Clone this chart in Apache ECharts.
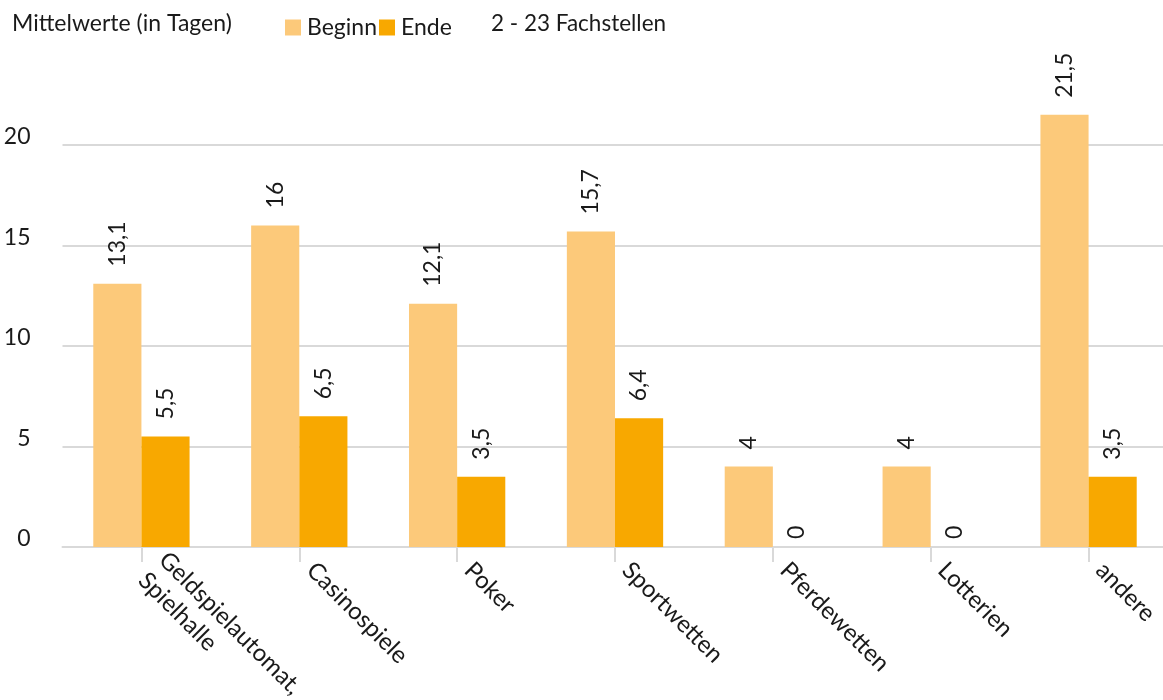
<!DOCTYPE html>
<html>
<head>
<meta charset="utf-8">
<script src="https://cdn.jsdelivr.net/npm/echarts@6/dist/echarts.min.js"></script>
<style>
html,body{margin:0;padding:0;background:#fff;}
#chart{width:1163px;height:700px;}
</style>
</head>
<body>
<div id="chart"></div>
<script>
const categories = ["Geldspielautomat,\nSpielhalle", "Casinospiele", "Poker", "Sportwetten", "Pferdewetten", "Lotterien", "andere"];
const beginn = [13.1, 16, 12.1, 15.7, 4, 4, 21.5];
const ende = [5.5, 6.5, 3.5, 6.4, 0, 0, 3.5];
const seriesNames = ["Beginn", "Ende"];
const yTicks = [0, 5, 10, 15, 20, 25];

const FONT = 'Lato, "Open Sans", sans-serif';
const TXT = '#1a1a1a';

function fmt(v){ return String(v).replace('.', ','); }
function items(arr){
  return arr.map(v => ({ value: v, label: { distance: v === 0 ? 8 : 17 } }));
}
const labelStyle = {
  show: true, position: 'top', rotate: 90, align: 'left', verticalAlign: 'middle',
  fontFamily: FONT, fontSize: 23, color: TXT,
  formatter: p => fmt(p.value)
};

const chart = echarts.init(document.getElementById('chart'), null, {renderer: 'canvas'});
chart.setOption({
  animation: false,
  backgroundColor: '#fff',
  textStyle: { fontFamily: FONT },
  title: [
    { text: 'Mittelwerte (in Tagen)', left: 7, top: 7, textStyle: { fontFamily: FONT, fontSize: 23, fontWeight: 'normal', color: TXT } },
    { text: '2 - 23 Fachstellen', left: 486, top: 7, textStyle: { fontFamily: FONT, fontSize: 22.5, fontWeight: 'normal', color: TXT } }
  ],
  legend: {
    data: seriesNames, left: 280, top: 11, icon: 'rect', itemWidth: 16, itemHeight: 16, itemGap: 2,
    textStyle: { fontFamily: FONT, fontSize: 23, color: TXT, padding: [0,0,0,1] }
  },
  grid: { left: 62.5, width: 1105, top: 44.5, bottom: 153, containLabel: false, outerBoundsMode: 'none' },
  xAxis: {
    type: 'category', data: categories, boundaryGap: true,
    axisLine: { lineStyle: { color: '#d9d9d9', width: 2 } },
    axisTick: { show: true, alignWithLabel: true, length: 15, lineStyle: { color: '#d9d9d9', width: 2 } },
    axisLabel: { rotate: -45, fontFamily: FONT, fontSize: 24, color: TXT, interval: 0, margin: 8, lineHeight: 29, padding: [0,0,0,16] }
  },
  yAxis: {
    type: 'value', min: yTicks[0], max: yTicks[yTicks.length - 1], interval: 5,
    axisLine: { show: false }, axisTick: { show: false },
    axisLabel: { fontFamily: FONT, fontSize: 23, color: TXT, margin: 32, showMaxLabel: false, verticalAlign: 'bottom', lineHeight: 16 },
    splitLine: { show: true, showMaxLine: false, lineStyle: { color: '#d9d9d9', width: 2 } }
  },
  series: [
    { name: seriesNames[0], type: 'bar', data: items(beginn), itemStyle: { color: '#FCC97A' }, barGap: '0%', barCategoryGap: '39%', label: labelStyle },
    { name: seriesNames[1], type: 'bar', data: items(ende), itemStyle: { color: '#F8A800' }, barGap: '0%', barCategoryGap: '39%', label: labelStyle }
  ]
});
</script>
</body>
</html>
